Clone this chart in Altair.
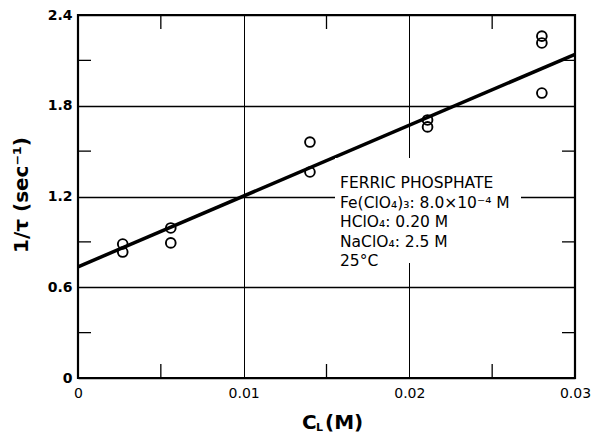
import altair as alt
import pandas as pd

# data
cl = [0.0027, 0.0027, 0.0056, 0.0056, 0.0140, 0.0140, 0.0211, 0.0211, 0.0280, 0.0280, 0.0280]
inv_tau = [0.886, 0.833, 0.992, 0.893, 1.56, 1.362, 1.706, 1.66, 2.26, 2.215, 1.884]
fit_x = [0.0, 0.03]
fit_y = [0.735, 2.14]
x_ticks = [0, 0.01, 0.02, 0.03]
y_ticks = [0, 0.6, 1.2, 1.8, 2.4]
x_minor = [0.005, 0.015, 0.025]
y_minor = [0.3, 0.9, 1.5, 2.1]
notes = ["FERRIC PHOSPHATE", "Fe(ClO\u2084)\u2083: 8.0\u00d710\u207b\u2074 M", "HClO\u2084: 0.20 M",
         "NaClO\u2084: 2.5 M", "25\u00b0C"]

FONT = "DejaVu Sans"
xs = alt.Scale(domain=[0, 0.03], nice=False, zero=False)
ys = alt.Scale(domain=[0, 2.4], nice=False, zero=False)

pts = pd.DataFrame({"x": cl, "y": inv_tau})
fit = pd.DataFrame({"x": fit_x, "y": fit_y})

xaxis = alt.Axis(values=x_ticks, labelExpr="datum.value == 0 ? '0' : format(datum.value, '.2f')",
                 grid=True, gridColor="black", gridWidth=1, ticks=False, domain=False,
                 labelFont=FONT, labelFontSize=14, labelColor="black", labelPadding=8,
                 title=None, labelFlush=False)
yaxis = alt.Axis(values=y_ticks, labelExpr="datum.value == 0 ? '0' : format(datum.value, '.1f')",
                 grid=True, gridColor="black", gridWidth=1.3, ticks=False, domain=False,
                 labelFont=FONT, labelFontSize=14, labelFontWeight="bold", labelColor="black",
                 labelPadding=6, title=None, labelFlush=False)

base_pts = alt.Chart(pts).mark_point(shape="circle", filled=False, color="black",
                                     size=95, strokeWidth=1.9, opacity=1).encode(
    x=alt.X("x:Q", scale=xs, axis=xaxis),
    y=alt.Y("y:Q", scale=ys, axis=yaxis),
)

line = alt.Chart(fit).mark_line(color="black", strokeWidth=3.5).encode(
    x=alt.X("x:Q", scale=xs), y=alt.Y("y:Q", scale=ys))

# minor inward ticks
xm = pd.DataFrame({"x": x_minor})
bot = alt.Chart(xm).mark_rule(color="black", strokeWidth=1.3).encode(
    x=alt.X("x:Q", scale=xs), y=alt.value(363), y2=alt.value(349))
top = alt.Chart(xm).mark_rule(color="black", strokeWidth=1.3).encode(
    x=alt.X("x:Q", scale=xs), y=alt.value(0), y2=alt.value(14))
ym = pd.DataFrame({"y": y_minor})
left = alt.Chart(ym).mark_rule(color="black", strokeWidth=1.3).encode(
    y=alt.Y("y:Q", scale=ys), x=alt.value(0), x2=alt.value(13))
right = alt.Chart(ym).mark_rule(color="black", strokeWidth=1.3).encode(
    y=alt.Y("y:Q", scale=ys), x=alt.value(497), x2=alt.value(484))

# white box behind the annotation
box = alt.Chart(pd.DataFrame({"a": [0]})).mark_rect(color="white", opacity=1).encode(
    x=alt.value(257), x2=alt.value(443), y=alt.value(143), y2=alt.value(248))


def label(txt, x, y, size, weight="normal", align="left", angle=0):
    return alt.Chart(pd.DataFrame({"t": [txt]})).mark_text(
        align=align, baseline="middle", font=FONT, fontSize=size, fontWeight=weight,
        color="black", angle=angle).encode(text="t:N", x=alt.value(x), y=alt.value(y))


note_layers = [label(t, 262, 168 + i * 19.5, 15.5) for i, t in enumerate(notes)]

ytitle = label("1/\u03c4 (sec\u207b\u00b9)", -56, 180, 20, "bold", "center", 270)
xt_c = label("C", 224, 408, 20, "bold")
xt_l = label("L", 238, 413, 11, "bold")
xt_m = label("(M)", 247, 408, 20, "bold")

chart = alt.layer(base_pts, line, bot, top, left, right, box, *note_layers,
                  ytitle, xt_c, xt_l, xt_m).properties(
    width=497, height=363,
    autosize=alt.AutoSizeParams(type="none"),
    padding={"left": 78, "top": 15, "right": 18, "bottom": 61},
    background="white",
).configure_view(stroke="black", strokeWidth=2.2)

chart.save("out.html", embed_options={"renderer": "svg", "actions": False})
